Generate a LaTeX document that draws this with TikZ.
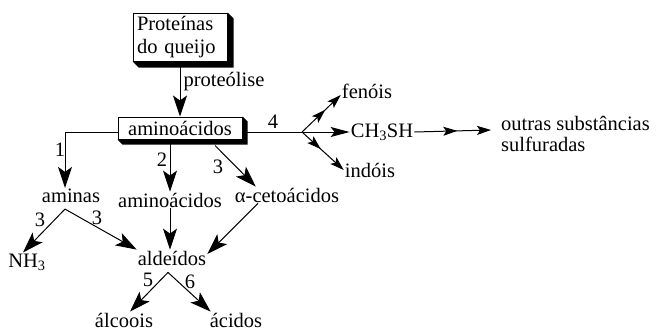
\documentclass[tikz,border=0pt]{standalone}
\usepackage{fontspec}
\setmainfont{Liberation Serif}
\usetikzlibrary{arrows.meta,decorations.markings}
\begin{document}
\begin{tikzpicture}[x=1pt,y=-1pt,
  every node/.style={font=\fontsize{20.5}{21}\selectfont, inner sep=1pt},
  conn/.style={line width=1pt},
  big/.style={conn,-{Stealth[length=21pt,width=14pt,inset=5pt]}},
  med/.style={conn,-{Stealth[length=19pt,width=10pt,inset=4pt]}},
  small/.style={conn,-{Stealth[length=14pt,width=9pt,inset=3pt]}},
  midhead/.style={postaction={decorate,decoration={markings,
     mark=at position #1 with {\arrow{Stealth[length=14pt,width=9pt,inset=3pt]}}}}},
  box/.style={draw, line width=1pt, fill=white},
  shadow/.style={fill=black}
]
\useasboundingbox (0,0) rectangle (658,332);

% boxes
\node[box, text width=86pt, inner xsep=4pt, align=left, minimum height=48pt,
      font=\fontsize{20.5}{23}\selectfont] (prot) at (180,37) {Proteínas\\do queijo};
\node[box, minimum width=124pt, minimum height=22pt] (amino) at (180,128) {aminoácidos};
\fill[shadow] (prot.south west) -- ++(6,6) -- ([shift={(6pt,-6pt)}]prot.south east)
   -- ([shift={(6pt,-6pt)}]prot.north east) -- (prot.north east) -- (prot.south east) -- cycle;
\fill[shadow] (amino.south west) -- ++(5,5) -- ([shift={(5pt,-5pt)}]amino.south east)
   -- ([shift={(5pt,-5pt)}]amino.north east) -- (amino.north east) -- (amino.south east) -- cycle;

% text nodes
\node (aminas) at (71,196) {aminas};
\node (amino2) at (170,200) {aminoácidos};
\node (ceto) at (287,195) {α-cetoácidos};
\node (nh3) at (27,262) {NH\textsubscript{3}};
\node (ald) at (172,258) {aldeídos};
\node (alc) at (124,320) {álcoois};
\node (aci) at (236,320) {ácidos};
\node (fen) at (367,91) {fenóis};
\node (ch) at (382,132) {CH\textsubscript{3}SH};
\node (ind) at (370,170) {indóis};
\node[align=left, anchor=west] (outras) at (500,134) {outras substâncias\\sulfuradas};

% labels
\node (lprot) at (224,82) {proteólise};
\node (l1) at (60,150) {1};
\node (l2) at (162,160) {2};
\node (l3a) at (218,167) {3};
\node (l4) at (273,122) {4};
\node (l3b) at (40,220) {3};
\node (l3c) at (97,218) {3};
\node (l5) at (148,280) {5};
\node (l6) at (190,282) {6};

% coordinates
\coordinate (c1) at (65,132);
\coordinate (br) at (302,132);
\coordinate (as) at ([yshift=-5pt]aminas.south);
\coordinate (ap) at ([xshift=-4pt,yshift=-6pt]ald.south);
\coordinate (tout) at ([xshift=-9pt,yshift=4pt]outras.west);

% connectors
\draw[big] (prot.south) -- (amino.north);
\draw[big] (amino.west |- c1) -- (c1) -- (c1 |- aminas.north);
\draw[big] (amino2 |- amino.south) -- (amino2.north);
\draw[big] ([xshift=35pt,yshift=-6pt]amino.south) -- ([xshift=22pt]ceto.north west);
\draw[big] (as -| c1) -- ([xshift=-4pt]nh3.north);
\draw[big] (as -| c1) -- (ald.north west);
\draw[big] (amino2.south) -- ([xshift=-2pt]ald.north);
\draw[big] ([xshift=-29pt]ceto.south) -- ([yshift=4pt]ald.east);
\draw[big] (ap) -- ([xshift=6pt]alc.north);
\draw[big] (ap) -- ([xshift=2pt]aci.north west);

\draw[conn] (amino.east |- br) -- (br);
\draw[small, midhead=0.6] (br) -- ([yshift=-4pt]fen.west);
\draw[med] (br) -- (ch.west);
\draw[small, midhead=0.45] (br) -- (ind.west);
\draw[small, midhead=0.56] (ch.east) -- (tout);
\end{tikzpicture}
\end{document}
